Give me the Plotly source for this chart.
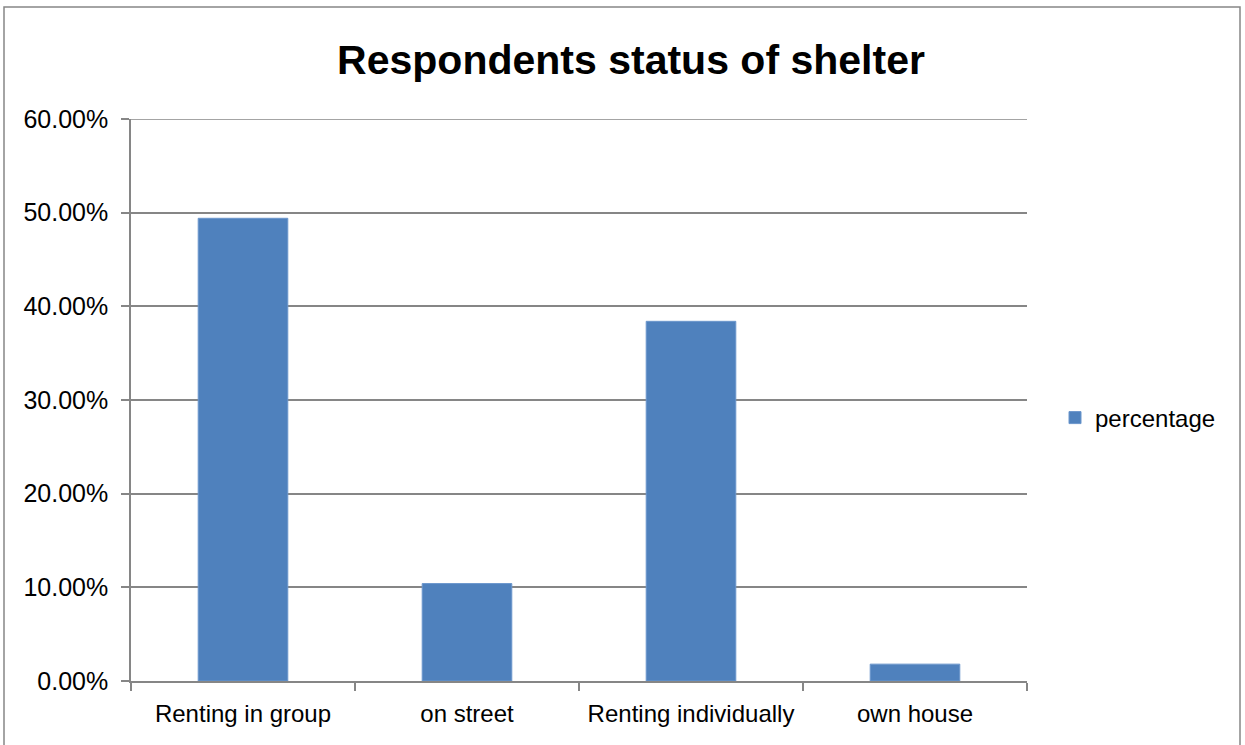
import plotly.graph_objects as go

categories = ["Renting in group", "on street", "Renting individually", "own house"]
percentage = [0.494, 0.104, 0.384, 0.018]
series_name = "percentage"
y_ticks = [0, 0.1, 0.2, 0.3, 0.4, 0.5, 0.6]
y_tick_labels = ["0.00%", "10.00%", "20.00%", "30.00%", "40.00%", "50.00%", "60.00%"]

FONT = "Liberation Sans"
W, H = 1245, 745
L, R, T, B = 131, 1027, 119, 681
GRAY = "#868686"

fig = go.Figure(go.Bar(x=categories, y=percentage, name=series_name,
                       marker=dict(color="#4F81BD", line=dict(color="#6B96CC", width=1)),
                       showlegend=True))

pw, ph = R - L, B - T
fig.update_layout(
    width=W, height=H,
    margin=dict(l=L, r=W - R, t=T, b=H - B, autoexpand=False),
    paper_bgcolor="white", plot_bgcolor="white",
    bargap=0.6,
    title=dict(text="<b>Respondents status of shelter</b>", x=631 / W, xref="container",
               xanchor="center", y=1 - 60 / H, yanchor="middle",
               font=dict(family=FONT, size=41, color="black")),
    font=dict(family=FONT, size=24, color="black"),
    showlegend=True,
    legend=dict(x=(1055 - L) / pw, y=(B - 418) / ph, xanchor="left", yanchor="middle",
                font=dict(family=FONT, size=24, color="black"), itemwidth=30),
    xaxis=dict(showline=True, linecolor=GRAY, linewidth=1.5, ticks="outside", ticklen=8,
               tickcolor=GRAY, tickwidth=1.5, tickson="boundaries", showgrid=False,
               ticklabelstandoff=10,
               tickfont=dict(family=FONT, size=24, color="black")),
    yaxis=dict(range=[0, 0.6], tickvals=y_ticks, ticktext=y_tick_labels, showline=True,
               linecolor=GRAY, linewidth=1.5, ticks="outside", ticklen=8,
               tickcolor=GRAY, tickwidth=1.5, showgrid=True, gridcolor=GRAY,
               gridwidth=1.5, zeroline=False, ticklabelstandoff=8,
               tickfont=dict(family=FONT, size=25, color="black")),
    shapes=[dict(type="rect", xref="paper", yref="paper",
                 x0=(4 - L) / pw, x1=(1240 - L) / pw, y0=(B - 760) / ph, y1=(B - 7) / ph,
                 line=dict(color=GRAY, width=1.5), fillcolor="rgba(0,0,0,0)", layer="below"),
            dict(type="line", xref="paper", yref="y", x0=0, x1=1, y0=y_ticks[-1], y1=y_ticks[-1],
                 line=dict(color=GRAY, width=1.5), layer="below")],
)

fig.write_html("out.html", config={"displayModeBar": False},
               post_script="document.body.style.margin='0';document.body.style.overflow='hidden';")
